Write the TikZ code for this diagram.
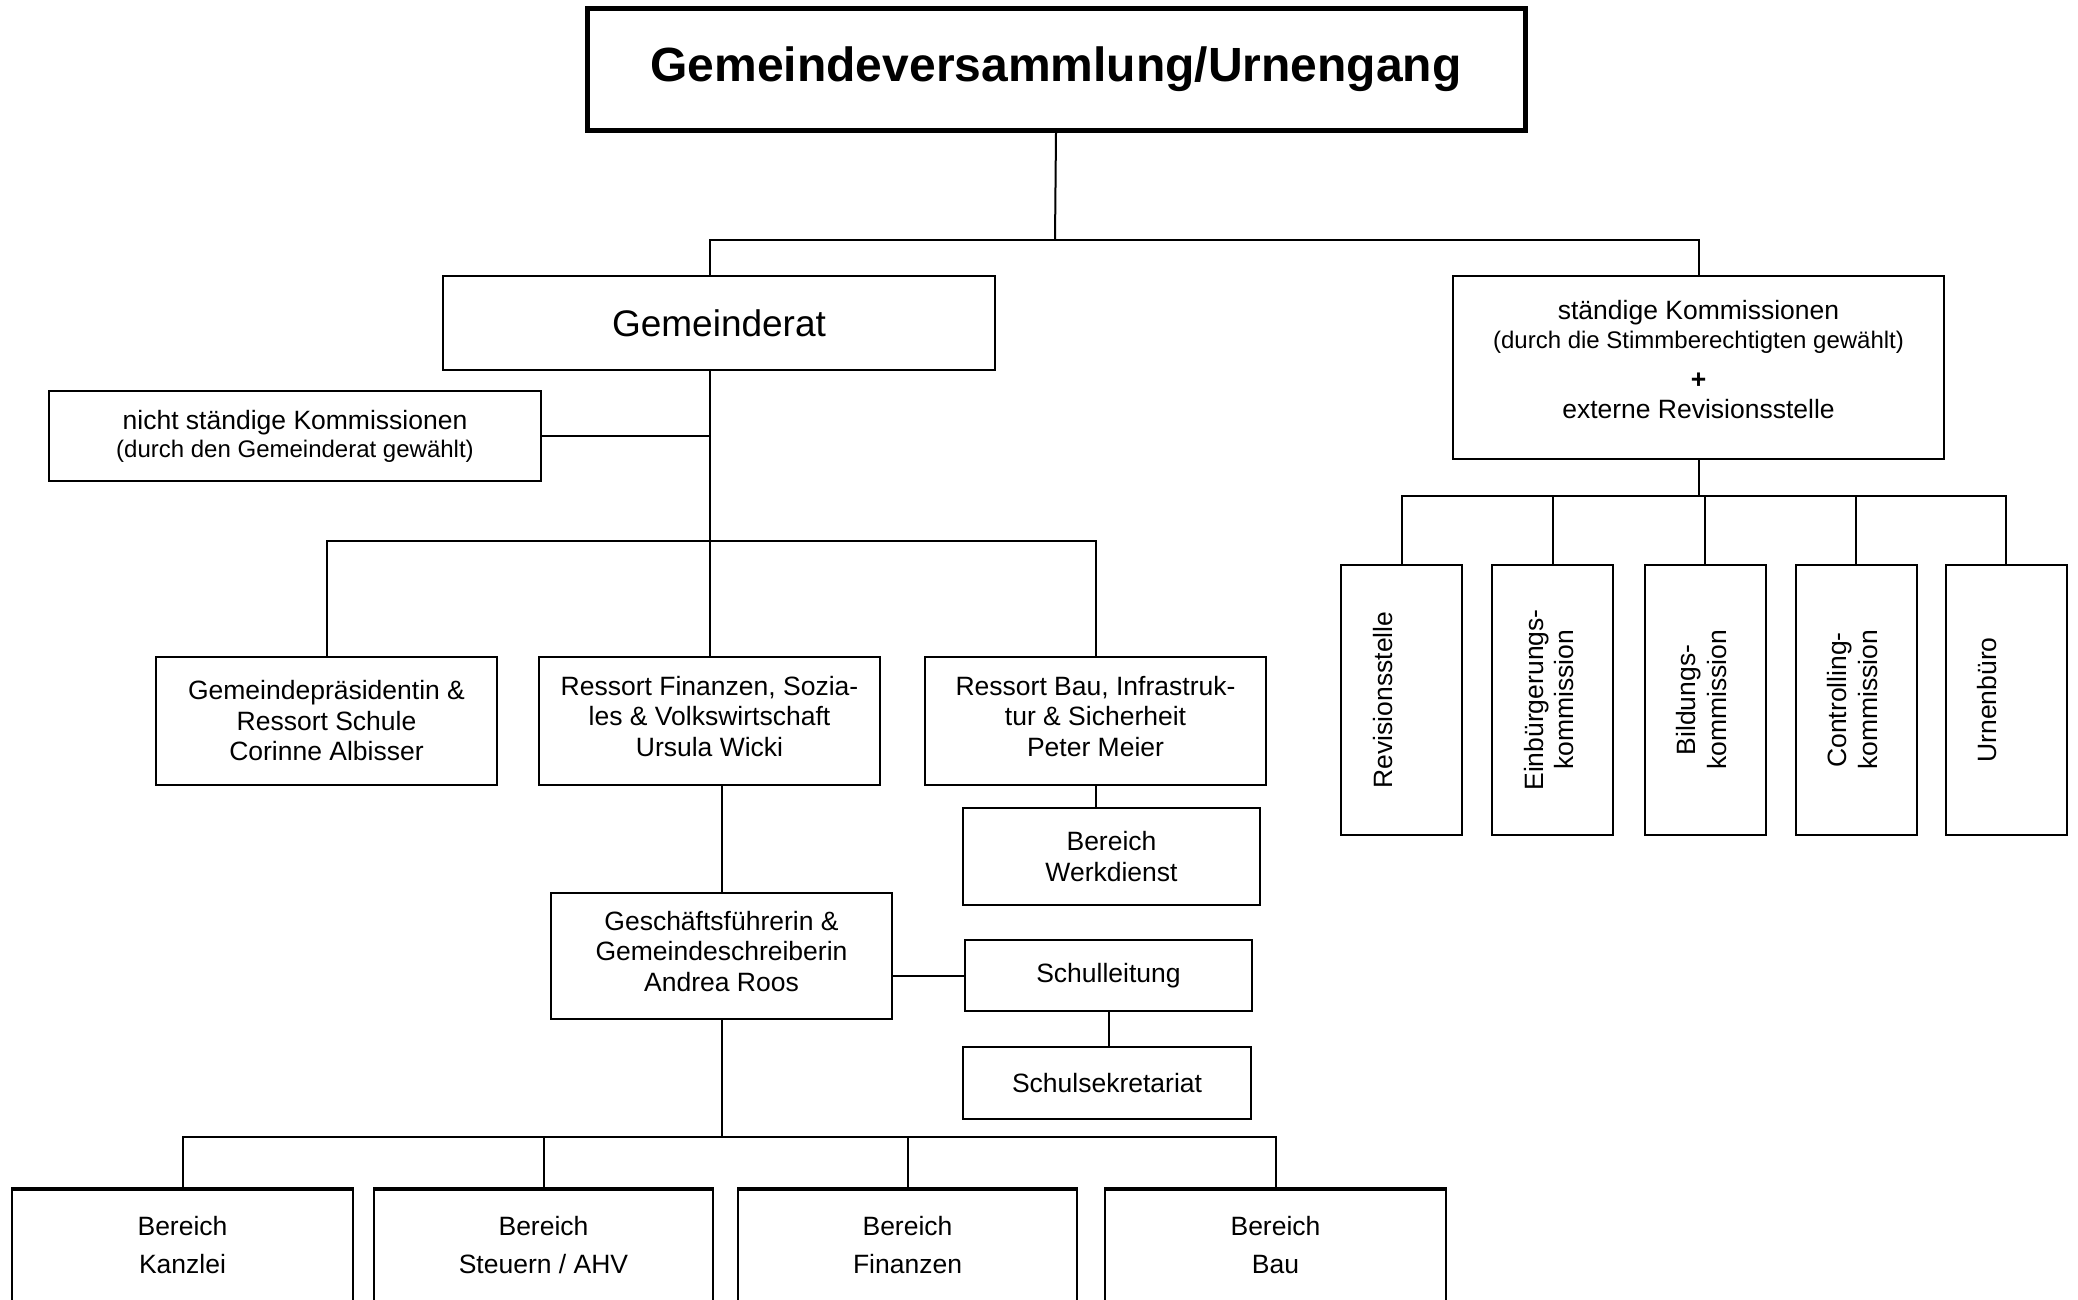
\documentclass[tikz,border=0pt]{standalone}
\usepackage{fontspec}
\setmainfont{Liberation Sans}
\usepackage{graphicx}
\begin{document}
\begin{tikzpicture}[x=1pt,y=-1pt,
  box/.style={draw, line width=2pt, align=center, inner sep=0pt, font=\fontsize{26.5}{30.5}\selectfont},
  conn/.style={line width=2pt},
  vbox/.style={box, minimum width=121pt, minimum height=270pt},
  bbox/.style={box, minimum height=120pt},
  topline/.style={line width=3.5pt}]
\useasboundingbox (0,0) rectangle (2078,1299);
\clip (0,0) rectangle (2078,1299);
\fill[white] (0,0) rectangle (2078,1299);

% nodes
\node[box, line width=5pt, minimum width=938pt, minimum height=122pt, font=\fontsize{48}{55}\selectfont\bfseries] (title) at (1056,69) {Gemeindeversammlung/Urnengang};
\node[box, minimum width=552pt, minimum height=94pt, font=\fontsize{37}{42}\selectfont] (gr) at (719,323) {Gemeinderat};
\node[box, minimum width=491pt, minimum height=183pt] (sk) at (1698.5,367.5) {ständige Kommissionen\\[-1.5pt]{\fontsize{24}{28}\selectfont(durch die Stimmberechtigten gewählt)}\\[9.5pt]{\bfseries +}\\externe Revisionsstelle\\[-14.5pt]\mbox{}};
\node[box, minimum width=492pt, minimum height=90pt] (nsk) at (295,436) {nicht ständige Kommissionen\\[-2.5pt]{\fontsize{24}{28}\selectfont(durch den Gemeinderat gewählt)}};

\node[box, minimum width=341pt, minimum height=128pt] (gp) at (326.5,721) {Gemeindepräsidentin \&\\Ressort Schule\\Corinne Albisser};
\node[box, minimum width=341pt, minimum height=128pt] (rf) at (709.5,721) {Ressort Finanzen, Sozia-\\les \& Volkswirtschaft\\Ursula Wicki\\[-20.5pt]\mbox{}};
\node[box, minimum width=341pt, minimum height=128pt] (rb) at (1095.5,721) {Ressort Bau, Infrastruk-\\tur \& Sicherheit\\Peter Meier\\[-20.5pt]\mbox{}};
\node[box, minimum width=297pt, minimum height=97pt] (wd) at (1111.5,856.5) {Bereich\\Werkdienst};
\node[box, minimum width=341pt, minimum height=126pt] (gf) at (721.5,956) {Geschäftsführerin \&\\Gemeindeschreiberin\\Andrea Roos\\[-20.5pt]\mbox{}};
\node[box, minimum width=287pt, minimum height=71pt] (sl) at (1108.5,975.5) {Schulleitung};
\node[box, minimum width=288pt, minimum height=72pt] (ss) at (1107,1083) {Schulsekretariat};

\node[bbox, minimum width=341pt] (ka) at (182.5,1250) {Bereich\\[8pt]Kanzlei\\[-20.5pt]\mbox{}};
\node[bbox, minimum width=339pt] (st) at (543.5,1250) {Bereich\\[8pt]Steuern / AHV\\[-20.5pt]\mbox{}};
\node[bbox, minimum width=339pt] (fi) at (907.5,1250) {Bereich\\[8pt]Finanzen\\[-20.5pt]\mbox{}};
\node[bbox, minimum width=341pt] (ba) at (1275.5,1250) {Bereich\\[8pt]Bau\\[-20.5pt]\mbox{}};
\foreach \n in {ka,st,fi,ba} {\draw[topline] (\n.north west) -- (\n.north east);}

\node[vbox] (rv) at (1401.5,700) {\rotatebox{90}{\begin{tabular}{@{}c@{}}Revisionsstelle\\ \mbox{}\end{tabular}}};
\node[vbox] (eb) at (1552.5,700) {\rotatebox{90}{\begin{tabular}{@{}c@{}}Einbürgerungs-\\kommission\end{tabular}}};
\node[vbox] (bk) at (1705,700) {\rotatebox{90}{\begin{tabular}{@{}c@{}}Bildungs-\\kommission\end{tabular}}};
\node[vbox] (ck) at (1856,700) {\rotatebox{90}{\begin{tabular}{@{}c@{}}Controlling-\\kommission\end{tabular}}};
\node[vbox] (ub) at (2006,700) {\rotatebox{90}{\begin{tabular}{@{}c@{}}Urnenbüro\\ \mbox{}\end{tabular}}};

% connectors
\coordinate (tbus) at (1055,240);
\draw[conn] (title.south) -- (tbus);
\draw[conn] (gr.north -| rf.north) |- (tbus);
\draw[conn] (sk.north) |- (tbus);

\coordinate (mbus) at (709.5,541);
\draw[conn] (gr.south -| rf.north) -- (rf.north);
\draw[conn] (gp.north) |- (mbus);
\draw[conn] (rb.north) |- (mbus);
\draw[conn] (nsk.east) -- (nsk.east -| rf.north);

\draw[conn] (rb.south) -- (rb.south |- wd.north);
\draw[conn] (gf.north) -- (gf.north |- rf.south);
\draw[conn] (gf.east |- sl.west) -- (sl.west);
\draw[conn] (sl.south) -- (sl.south |- ss.north);

\coordinate (bbus) at (721.5,1137);
\draw[conn] (gf.south) -- (bbus);
\foreach \n in {ka,st,fi,ba} {\draw[conn] (\n.north) |- (bbus);}

\coordinate (kbus) at (1698.5,496);
\draw[conn] (sk.south) -- (kbus);
\foreach \n in {rv,eb,bk,ck,ub} {\draw[conn] (\n.north) |- (kbus);}
\end{tikzpicture}
\end{document}
